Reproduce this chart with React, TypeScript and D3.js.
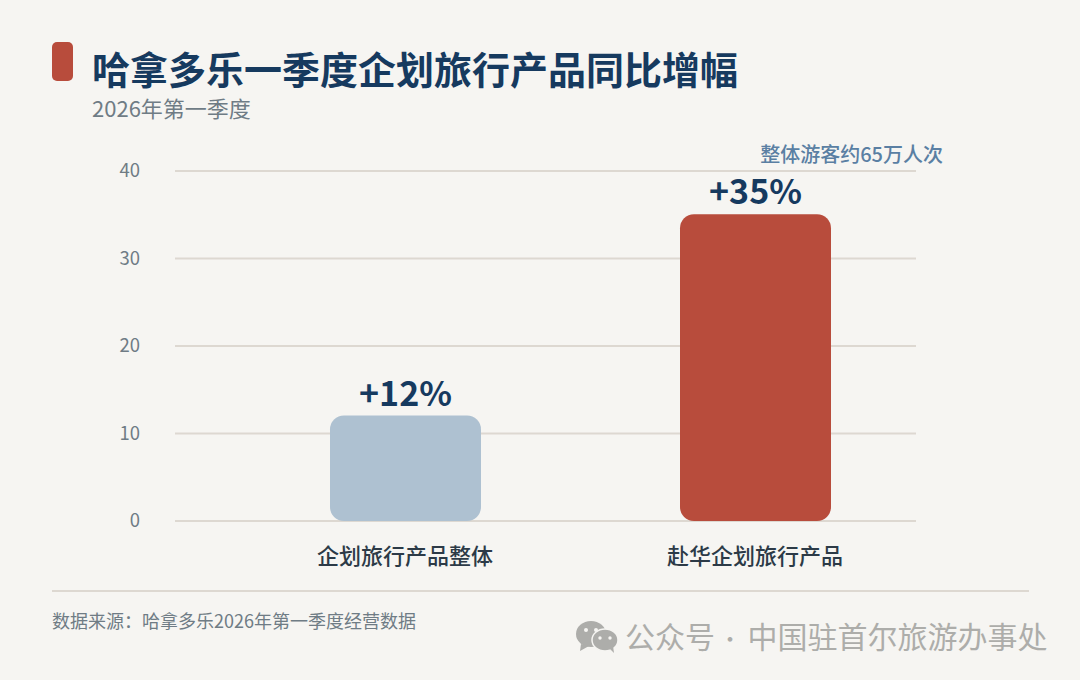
import React from "react";
import * as d3 from "d3";

const categories = ["企划旅行产品整体", "赴华企划旅行产品"];
const values = [12, 35];
const valueLabels = ["+12%", "+35%"];
const barColors = ["#aec1d1", "#b84c3c"];
const yTicks = [0, 10, 20, 30, 40];

const title = "哈拿多乐一季度企划旅行产品同比增幅";
const subtitle = "2026年第一季度";
const annotation = "整体游客约65万人次";
const source = "数据来源：哈拿多乐2026年第一季度经营数据";
const watermarkLeft = "公众号";
const watermarkDot = "·";
const watermarkRight = "中国驻首尔旅游办事处";

const width = 1080;
const height = 680;
const font = '"Noto Sans CJK SC", "Noto Sans", sans-serif';

const navy = "#163a5f";
const grey = "#6f7c85";
const gridColor = "#ddd8d1";
const markColor = "#adadaa";

const App: React.FC = () => {
  const x = d3.scaleBand<string>()
    .domain(categories)
    .range([330, 831])
    .paddingInner(0.5686);

  const y = d3.scaleLinear()
    .domain([0, 40])
    .range([521, 171]);

  return (
    <svg
      width={width}
      height={height}
      viewBox={`0 0 ${width} ${height}`}
      style={{ position: "absolute", left: 0, top: 0, background: "#f6f5f2", fontFamily: font }}
    >
      <rect x={52} y={42} width={21} height={39} rx={5} fill="#b84c3c" />
      <text x={92} y={84} fontSize={38} fontWeight={700} fill={navy}>{title}</text>
      <text x={92} y={117} fontSize={22} fill={grey}>{subtitle}</text>

      {yTicks.map(t => (
        <g key={t}>
          <line x1={175} x2={916} y1={y(t)} y2={y(t)} stroke={gridColor} strokeWidth={2} />
          <text x={140} y={y(t)} dy="0.35em" textAnchor="end" fontSize={18.5} fill={grey}>{t}</text>
        </g>
      ))}

      {categories.map((c, i) => {
        const bx = x(c) ?? 0;
        const cx = bx + x.bandwidth() / 2;
        return (
          <g key={c}>
            <rect
              x={bx}
              y={y(values[i]) - 0.5}
              width={x.bandwidth()}
              height={y(0) - y(values[i]) + 0.5}
              rx={14}
              fill={barColors[i]}
            />
            <text x={cx} y={y(values[i]) - 10.5} textAnchor="middle" fontSize={34} fontWeight={700} fill={navy}>
              {valueLabels[i]}
            </text>
            <text x={cx - 0.5} y={563.5} textAnchor="middle" fontSize={22} fontWeight={500} fill="#2c3a47">{c}</text>
          </g>
        );
      })}

      <text x={943} y={161.5} textAnchor="end" fontSize={20} fontWeight={500} fill="#5a7fa3">{annotation}</text>

      <line x1={52} x2={1029} y1={591} y2={591} stroke={gridColor} strokeWidth={2} />
      <text x={52} y={628} fontSize={18} fill={grey}>{source}</text>

      <g fill={markColor}>
        <ellipse cx={591} cy={634} rx={15} ry={13} />
        <path d="M581 644 L580 651 L589 646 Z" />
        <ellipse cx={605} cy={640} rx={13} ry={11} stroke="#f6f5f2" strokeWidth={1.5} />
        <path d="M610 649 L614 653 L613 646 Z" />
        <g fill="#f6f5f2">
          <circle cx={586} cy={630} r={2} />
          <circle cx={596} cy={630} r={2} />
          <circle cx={600} cy={638} r={1.7} />
          <circle cx={610} cy={638} r={1.7} />
        </g>
      </g>
      <text x={625} y={648} fontSize={30} fill={markColor}>{watermarkLeft}</text>
      <text x={730} y={647} fontSize={22} textAnchor="middle" fill={markColor}>{watermarkDot}</text>
      <text x={747.5} y={648} fontSize={30} fill={markColor}>{watermarkRight}</text>
    </svg>
  );
};

export default App;
